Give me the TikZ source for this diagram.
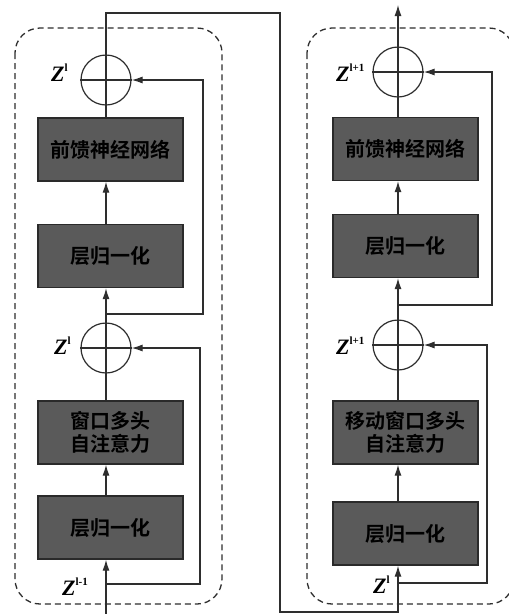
\documentclass[tikz,border=0pt]{standalone}
\usepackage{fontspec}
\newfontfamily\cjkb{Noto Sans CJK SC Bold}
\newfontfamily\zfont{Liberation Serif}
\usetikzlibrary{arrows.meta}
\definecolor{boxfill}{HTML}{5A5A5A}
\definecolor{boxline}{HTML}{2A2A2A}
\definecolor{lncol}{HTML}{2E2E2E}
\newcommand\zsup[1]{Z\raisebox{0.42em}{\fontsize{11}{11}\selectfont\upshape #1}}
\begin{document}
\begin{tikzpicture}[x=1pt,y=-1pt,
  blk/.style={draw=boxline, line width=1.3pt, fill=boxfill, minimum width=145pt, minimum height=63pt, inner sep=0pt},
  lbl/.style={font=\cjkb\fontsize{20}{23}\selectfont, text=black, inner sep=0pt},
  addc/.style={draw=lncol, circle, minimum size=50pt, inner sep=0pt, line width=1.2pt},
  conn/.style={draw=lncol, line width=1.2pt},
  arr/.style={conn, -{Latex[length=11pt,width=7pt]}},
  zl/.style={font=\zfont\bfseries\itshape\fontsize{22}{22}\selectfont, text=black, inner sep=0pt, anchor=base west},
  frame/.style={draw=lncol, dash pattern=on 6pt off 4pt, line width=1.3pt, rounded corners=25pt}
]
\fill[white] (0,0) rectangle (509,614);
\useasboundingbox (0,0) rectangle (509,614);

% frames
\draw[frame] (15,28) rectangle (222,604);
\draw[frame] (307,28) rectangle (514,604);

% columns
\coordinate (cA) at (106,0);
\coordinate (cB) at (398,0);

% left block
\node[blk] (lnA1) at (110.5,527.5) {};
\node[blk] (attA) at (110.5,432.5) {};
\node[addc] (addA1) at (106,348) {};
\node[blk] (lnA2) at (110.5,256) {};
\node[blk] (ffnA) at (110.5,149.5) {};
\node[addc] (addA2) at (106,80) {};

% right block
\node[blk] (lnB1) at (405.5,533.5) {};
\node[blk] (attB) at (405.5,432.5) {};
\node[addc] (addB1) at (398,345) {};
\node[blk] (lnB2) at (405.5,246) {};
\node[blk] (ffnB) at (405.5,149) {};
\node[addc] (addB2) at (398,72) {};

% texts
\node[lbl] (tlnA1) at (lnA1) {\textcolor{black}{层归一化}};
\node[lbl] (tattA1) at ([yshift=11.5pt]attA.center) {\textcolor{black}{窗口多头}};
\node[lbl] (tattA2) at ([yshift=-11.5pt]attA.center) {\textcolor{black}{自注意力}};
\node[lbl] (tlnA2) at (lnA2) {\textcolor{black}{层归一化}};
\node[lbl] (tffnA) at (ffnA) {\textcolor{black}{前馈神经网络}};
\node[lbl] (tlnB1) at (lnB1) {\textcolor{black}{层归一化}};
\node[lbl] (tattB1) at ([yshift=11.5pt]attB.center) {\textcolor{black}{移动窗口多头}};
\node[lbl] (tattB2) at ([yshift=-11.5pt]attB.center) {\textcolor{black}{自注意力}};
\node[lbl] (tlnB2) at (lnB2) {\textcolor{black}{层归一化}};
\node[lbl] (tffnB) at (ffnB) {\textcolor{black}{前馈神经网络}};

% coordinates
\coordinate (inA) at (106,614);
\coordinate (rA1) at (200,584);
\coordinate (rA2) at (203,314);
\coordinate (topR) at (280,13);
\coordinate (botR) at (280,612);
\coordinate (rB1) at (487,583);
\coordinate (rB2) at (492,305);
\coordinate (outB) at (398,5);

% left connections
\draw[arr] (inA) -- (lnA1.south -| cA);
\draw[arr] (lnA1.north -| cA) -- (attA.south -| cA);
\draw[conn] (attA.north -| cA) -- (addA1.north);
\draw[conn] (addA1.west) -- (addA1.east);
\draw[arr] (addA1.north) -- (lnA2.south -| cA);
\draw[arr] (lnA2.north -| cA) -- (ffnA.south -| cA);
\draw[conn] (ffnA.north -| cA) -- (addA2.north);
\draw[conn] (addA2.west) -- (addA2.east);
\draw[arr] (cA |- rA1) -- (rA1) |- (addA1.east);
\draw[arr] (cA |- rA2) -- (rA2) |- (addA2.east);

% bridge
\draw[arr] (addA2.north) |- (topR) -- (botR) -| (lnB1.south -| cB);

% right connections
\draw[arr] (lnB1.north -| cB) -- (attB.south -| cB);
\draw[conn] (attB.north -| cB) -- (addB1.north);
\draw[conn] (addB1.west) -- (addB1.east);
\draw[arr] (addB1.north) -- (lnB2.south -| cB);
\draw[arr] (lnB2.north -| cB) -- (ffnB.south -| cB);
\draw[conn] (ffnB.north -| cB) -- (addB2.north);
\draw[conn] (addB2.west) -- (addB2.east);
\draw[arr] (cB |- rB1) -- (rB1) |- (addB1.east);
\draw[arr] (cB |- rB2) -- (rB2) |- (addB2.east);
\draw[arr] (addB2.north) -- (outB);

% labels
\node[zl] (zA2) at (51,81) {\zsup{l}};
\node[zl] (zA1) at (54,354) {\zsup{l}};
\node[zl] (zA0) at (62,595) {\zsup{l-1}};
\node[zl] (zB2) at (336,81) {\zsup{l+1}};
\node[zl] (zB1) at (336,354) {\zsup{l+1}};
\node[zl] (zB0) at (373,593) {\zsup{l}};
\end{tikzpicture}
\end{document}
